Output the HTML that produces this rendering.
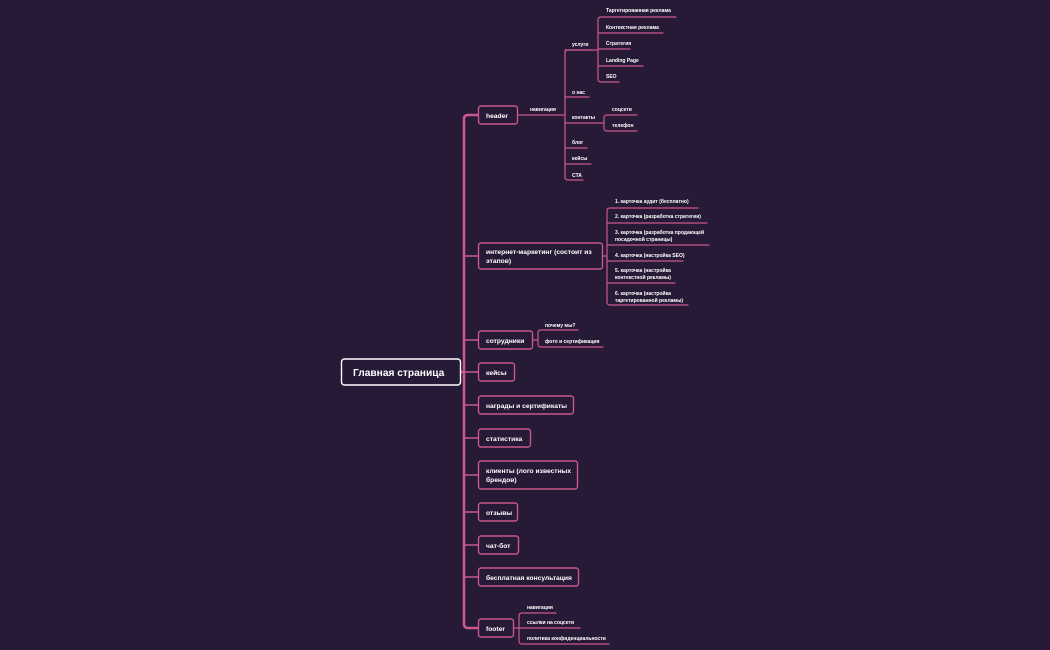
<!DOCTYPE html>
<html><head><meta charset="utf-8"><style>
html,body{margin:0;padding:0;background:#261a36;}
svg{display:block}
text{font-family:"Liberation Sans","DejaVu Sans",sans-serif;fill:#fff;font-weight:bold}
.s{font-size:5px}
.m{font-size:6.7px}
</style></head><body>
<svg width="1050" height="650" viewBox="0 0 1050 650" xmlns="http://www.w3.org/2000/svg">
<rect width="1050" height="650" fill="#261a36"/>
<g fill="none" stroke="#c9588b" stroke-linecap="round">
<path d="M460 372 H464" stroke-width="2.5"/>
<path d="M478 115 H468 Q464 115 464 119 V624 Q464 628 468 628 H478" stroke-width="2.5"/>
<path d="M464 256 H478 M464 340 H478 M464 372 H478 M464 405 H478 M464 438 H478 M464 475 H478 M464 512 H478 M464 545 H478 M464 577 H478" stroke-width="1.6"/>
<path d="M517 115 H565" stroke-width="1.3"/>
<path d="M590 50 H568 Q565 50 565 53 V177 Q565 180 568 180 H583" stroke-width="1.3"/>
<path d="M565 97 H589 M565 123 H604 M565 148 H587 M565 164 H591" stroke-width="1.3"/>
<path d="M565 50 H598" stroke-width="1.3"/>
<path d="M676 17 H601 Q598 17 598 20 V79 Q598 82 601 82 H619" stroke-width="1.2"/>
<path d="M598 33 H663 M598 49 H630 M598 66 H643" stroke-width="1.2"/>
<path d="M637 115 H607 Q604 115 604 118 V128 Q604 131 607 131 H637" stroke-width="1.2"/>
<path d="M602 256 H607" stroke-width="1.3"/>
<path d="M698 208 H610 Q607 208 607 211 V302 Q607 305 610 305 H688" stroke-width="1.2"/>
<path d="M607 223 H707 M607 245 H709 M607 261 H683 M607 283 H675" stroke-width="1.2"/>
<path d="M532 340 H538" stroke-width="1.2"/>
<path d="M578 330 H541 Q538 330 538 333 V344 Q538 347 541 347 H603" stroke-width="1.2"/>
<path d="M513 628 H519" stroke-width="1.2"/>
<path d="M556 613 H522 Q519 613 519 616 V641 Q519 644 522 644 H609" stroke-width="1.2"/>
<path d="M519 628 H580" stroke-width="1.2"/>
</g>
<g fill="#261a36" stroke="#c9588b" stroke-width="1.4">
<rect x="478.5" y="106" width="39" height="18" rx="2.5"/>
<rect x="478.5" y="243" width="124" height="26" rx="2.5"/>
<rect x="478.5" y="331" width="54" height="18" rx="2.5"/>
<rect x="478.5" y="363" width="36" height="18" rx="2.5"/>
<rect x="478.5" y="396" width="95" height="18" rx="2.5"/>
<rect x="478.5" y="429" width="52" height="18" rx="2.5"/>
<rect x="478.5" y="461" width="99" height="28" rx="2.5"/>
<rect x="478.5" y="503" width="39" height="18" rx="2.5"/>
<rect x="478.5" y="536" width="40" height="18" rx="2.5"/>
<rect x="478.5" y="568" width="100" height="18" rx="2.5"/>
<rect x="478.5" y="619" width="35" height="18" rx="2.5"/>
</g>
<rect x="341.5" y="359" width="119" height="26" rx="3" fill="#261a36" stroke="#fff" stroke-width="1.4"/>
<text x="353" y="376" style="font-size:10.2px">Главная страница</text>
<g>
<text x="486" y="118" class="m">header</text>
<text x="486" y="254" class="m">интернет-маркетинг (состоит из</text>
<text x="486" y="263" class="m">этапов)</text>
<text x="486" y="343" class="m">сотрудники</text>
<text x="486" y="375" class="m">кейсы</text>
<text x="486" y="408" class="m">награды и сертификаты</text>
<text x="486" y="441" class="m">статистика</text>
<text x="486" y="473" class="m">клиенты (лого известных</text>
<text x="486" y="482" class="m">брендов)</text>
<text x="486" y="515" class="m">отзывы</text>
<text x="486" y="548" class="m">чат-бот</text>
<text x="486" y="580" class="m">бесплатная консультация</text>
<text x="486" y="631" class="m">footer</text>
</g>
<g>
<text x="530" y="111" class="s">навигация</text>
<text x="572" y="46" class="s">услуги</text>
<text x="572" y="94" class="s">о нас</text>
<text x="572" y="119" class="s">контакты</text>
<text x="572" y="144" class="s">блог</text>
<text x="572" y="160" class="s">кейсы</text>
<text x="572" y="177" class="s">CTA</text>
<text x="606" y="12" class="s">Таргетированная реклама</text>
<text x="606" y="29" class="s">Контекстная реклама</text>
<text x="606" y="45" class="s">Стратегия</text>
<text x="606" y="62" class="s">Landing Page</text>
<text x="606" y="78" class="s">SEO</text>
<text x="612" y="111" class="s">соцсети</text>
<text x="612" y="127" class="s">телефон</text>
<text x="615" y="203" class="s">1. карточка аудит (бесплатно)</text>
<text x="615" y="218" class="s">2. карточка (разработка стратегии)</text>
<text x="615" y="234" class="s">3. карточка (разработка продающей</text>
<text x="615" y="241" class="s">посадочной страницы)</text>
<text x="615" y="257" class="s">4. карточка (настройка SEO)</text>
<text x="615" y="272" class="s">5. карточка (настройка</text>
<text x="615" y="279" class="s">контекстной рекламы)</text>
<text x="615" y="295" class="s">6. карточка (настройка</text>
<text x="615" y="302" class="s">таргетированной рекламы)</text>
<text x="545" y="327" class="s">почему мы?</text>
<text x="545" y="343" class="s">фото и сертификация</text>
<text x="527" y="609" class="s">навигация</text>
<text x="527" y="624" class="s">ссылки на соцсети</text>
<text x="527" y="640" class="s">политика конфиденциальности</text>
</g>
</svg>
</body></html>
